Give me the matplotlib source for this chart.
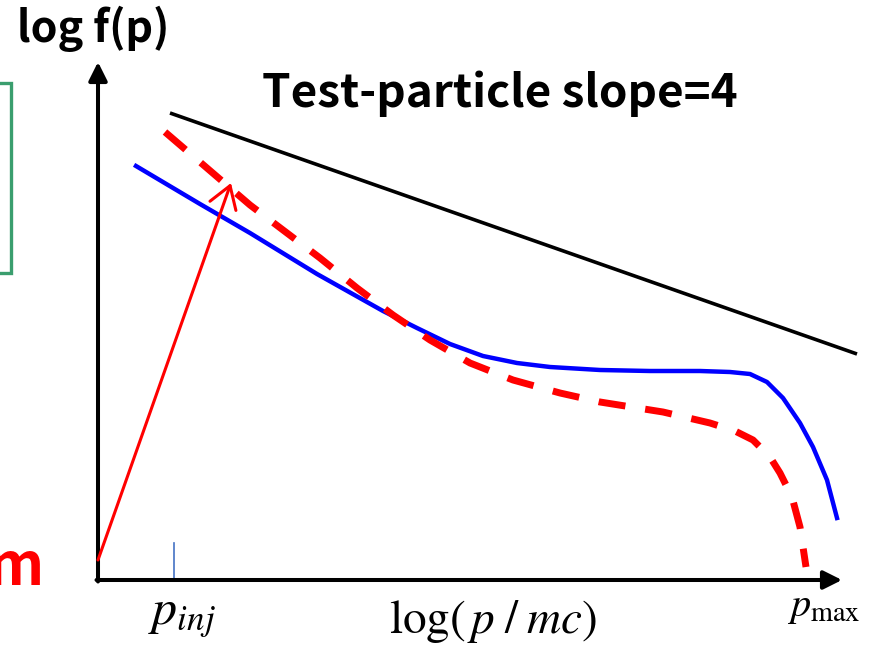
import matplotlib.pyplot as plt
from matplotlib.patches import Rectangle

plt.rcParams['mathtext.fontset'] = 'stix'
plt.rcParams['lines.scale_dashes'] = False

# sketch coordinates (pixels, y downwards)
black_x = [170, 857]
black_y = [113, 354]

blue_x = [136, 200, 250, 317, 383, 417, 450, 483, 517, 550, 600, 650, 700,
          730, 750, 767, 783, 800, 813, 827, 837]
blue_y = [166, 204, 233, 274, 311, 328, 344, 356, 363, 367, 370, 371, 371,
          372, 374, 382, 398, 423, 447, 480, 518]

red_x = [165, 250, 283, 320, 357, 393, 430, 470, 513, 560, 600, 663, 710,
         735, 753, 770, 780, 792, 800, 806]
red_y = [132, 205, 230, 258, 288, 315, 340, 363, 380, 393, 402, 412, 423,
         431, 440, 457, 473, 497, 527, 567]

arrow_start = (98, 560)
arrow_end = (231, 183)

p_inj_x = 174
origin = (98, 580)
x_axis_end = 842
y_axis_end = 62

fig = plt.figure(figsize=(8.77, 6.49), dpi=100)
ax = fig.add_axes([0, 0, 1, 1])
ax.set_xlim(0, 877)
ax.set_ylim(649, 0)
ax.axis('off')

# green box cut at the left edge
ax.add_patch(Rectangle((-30, 83), 41, 190, fill=False,
                       edgecolor='#3A9E6E', lw=2.4))

# axes with arrow heads
ax.annotate('', xy=(x_axis_end, origin[1]), xytext=(origin[0] - 1.5, origin[1]),
            arrowprops=dict(arrowstyle='-|>', lw=2.9, color='black',
                            mutation_scale=28, shrinkA=0, shrinkB=0))
ax.annotate('', xy=(origin[0], y_axis_end), xytext=(origin[0], origin[1] + 1.5),
            arrowprops=dict(arrowstyle='-|>', lw=2.9, color='black',
                            mutation_scale=28, shrinkA=0, shrinkB=0))

ax.plot(black_x, black_y, color='black', lw=2.6, solid_capstyle='butt')
ax.plot(blue_x, blue_y, color='#0000FF', lw=3.2)
ax.plot(red_x, red_y, color='#FF0000', lw=5, dashes=(19.5, 14.4))

ax.annotate('', xy=arrow_end, xytext=arrow_start,
            arrowprops=dict(arrowstyle='->,head_length=0.7,head_width=0.45',
                            lw=2.2, color='#FF0000', mutation_scale=22,
                            shrinkA=0, shrinkB=0))

ax.plot([p_inj_x, p_inj_x], [543, origin[1]], color='#4472C4', lw=1.2)

bold = dict(family=['Noto Sans CJK KR', 'DejaVu Sans'], fontweight='bold')
ax.text(17, 42, 'log f(p)', fontsize=31, ha='left', va='baseline', **bold)
ax.text(500, 107, 'Test-particle slope=4', fontsize=33, ha='center',
        va='baseline', **bold)
ax.text(44, 585, 'm', fontsize=42, ha='right', va='baseline',
        color='#FF0000', **bold)

ax.text(148, 624, r'$p_{inj}$', fontsize=36, ha='left', va='baseline')
ax.text(493, 633, r'$\log(\,p\;/\;mc)$', fontsize=34, ha='center',
        va='baseline')
ax.text(787, 616, r'$p_{\max}$', fontsize=29, ha='left', va='baseline')

fig.savefig('out.png', dpi=100)
